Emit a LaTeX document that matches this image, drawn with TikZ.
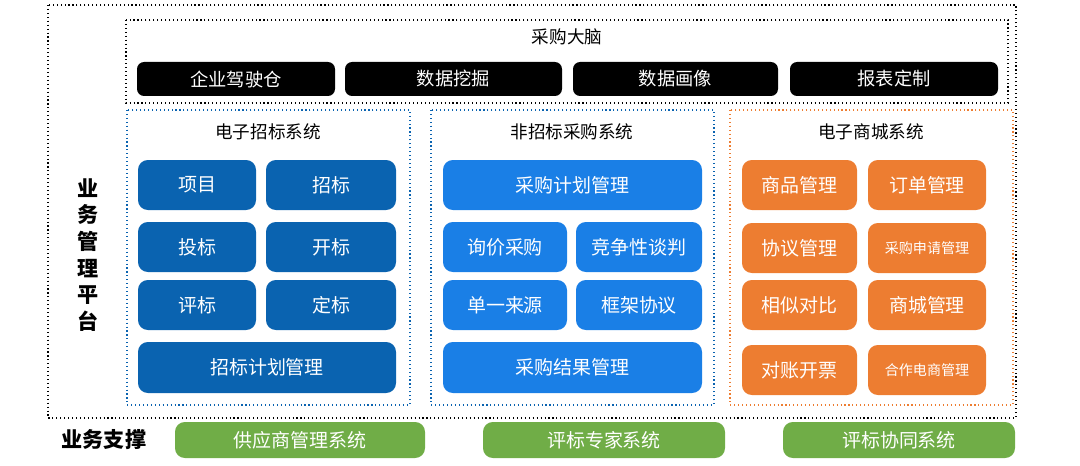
\documentclass[tikz,border=0pt]{standalone}
\usepackage{fontspec}
\setmainfont{Noto Sans CJK SC}
\usetikzlibrary{positioning}
\definecolor{darkblue}{HTML}{0A63B0}
\definecolor{lightblue}{HTML}{1A7FE6}
\definecolor{mallorange}{HTML}{ED7D31}
\definecolor{supportgreen}{HTML}{70AD47}
\begin{document}
\begin{tikzpicture}[x=0.025cm,y=-0.025cm]

		\tikzstyle{frame}=[draw=black,dotted,thick]
		\tikzstyle{sysframe}=[dotted,thick]
		\tikzstyle{bar}=[rounded corners=5pt,fill=black,text=white,
			font=\fontsize{13}{15}\selectfont]
		\tikzstyle{btn}=[rounded corners=7pt,text=white,
			font=\fontsize{13.5}{16}\selectfont]
		\tikzstyle{title}=[font=\fontsize{12.5}{15}\selectfont]

		\useasboundingbox (0,0) rectangle (1080,466);

		\draw[frame]	(48,5)	rectangle	(1016,418);
		\draw[frame]	(126,20)	rectangle	(1008,103);
		\node[title]	(brain)	at (567,37)	{采购大脑};
		\foreach \x/\w/\t in {137/335/企业驾驶仓,345/562/数据挖掘,573/778/数据画像,790/998/报表定制}
			\fill[bar]	(\x,62) rectangle node {\t} (\w,96);

		\draw[sysframe,draw=darkblue]	(127,110)	rectangle	(410,405);
		\draw[sysframe,draw=darkblue]	(431,110)	rectangle	(714,405);
		\draw[sysframe,draw=mallorange]	(730,110)	rectangle	(1013,405);
		\node[title]	(bid)	at (268,132)	{电子招标系统};
		\node[title]	(nonbid)	at (572,132)	{非招标采购系统};
		\node[title]	(mall)	at (871,132)	{电子商城系统};

		% electronic bidding
		\foreach \y/\a/\b in {160/项目/招标,222/投标/开标,280/评标/定标}{
			\fill[btn,fill=darkblue]	(138,\y) rectangle node {\a} (256,\y+50);
			\fill[btn,fill=darkblue]	(266,\y) rectangle node {\b} (396,\y+50);
		}
		\fill[btn,fill=darkblue]	(138,342) rectangle node {招标计划管理} (396,393);

		% non-bidding
		\fill[btn,fill=lightblue]	(443,160) rectangle node {采购计划管理} (702,210);
		\foreach \y/\a/\b in {222/询价采购/竞争性谈判,280/单一来源/框架协议}{
			\fill[btn,fill=lightblue]	(443,\y) rectangle node {\a} (567,\y+50);
			\fill[btn,fill=lightblue]	(576,\y) rectangle node {\b} (702,\y+50);
		}
		\fill[btn,fill=lightblue]	(443,342) rectangle node {采购结果管理} (702,393);

		% mall
		\foreach \y/\a/\b in {160/商品管理/订单管理,223/协议管理/{\fontsize{10}{12}\selectfont 采购申请管理},280/相似对比/商城管理,345/对账开票/{\fontsize{10}{12}\selectfont 合作电商管理}}{
			\fill[btn,fill=mallorange]	(742,\y) rectangle node {\a} (857,\y+50);
			\fill[btn,fill=mallorange]	(868,\y) rectangle node {\b} (986,\y+50);
		}

		\node[font=\fontsize{15}{19}\selectfont\bfseries,align=center]	(platform)	at (88,255)	{业\\务\\管\\理\\平\\台};

		% support
		\node[font=\fontsize{15}{18}\selectfont\bfseries]	(support)	at (104,440)	{业务支撑};
		\foreach \x/\w/\t in {175/425/供应商管理系统,483/725/评标专家系统,783/1015/评标协同系统}
			\fill[btn,fill=supportgreen]	(\x,422) rectangle node {\t} (\w,458);

	\end{tikzpicture}
\end{document}
